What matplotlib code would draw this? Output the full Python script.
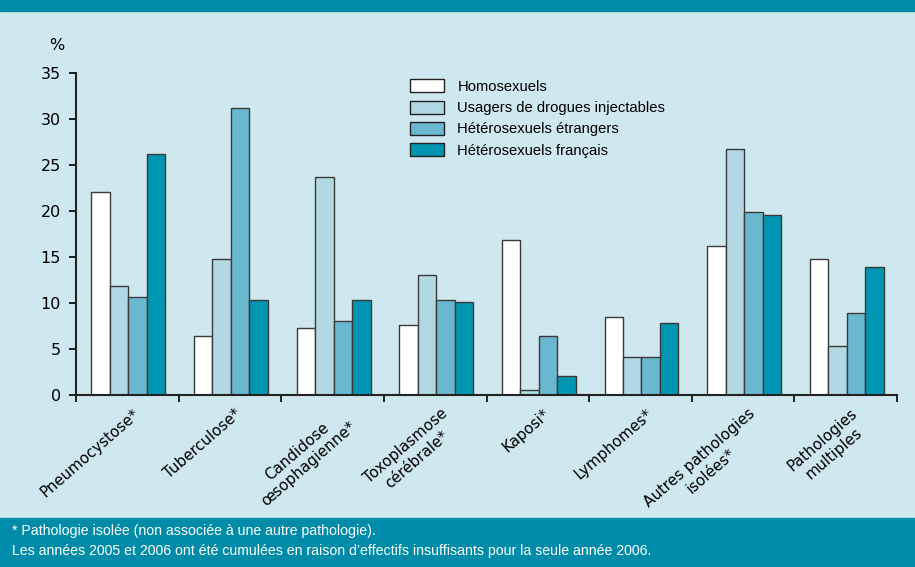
import matplotlib
matplotlib.use("Agg")
import matplotlib.pyplot as plt
import numpy as np
from matplotlib.patches import Rectangle
from matplotlib.transforms import ScaledTranslation

categories = ["Pneumocystose*", "Tuberculose*", "Candidose\nœsophagienne*", "Toxoplasmose\ncérébrale*",
              "Kaposi*", "Lymphomes*", "Autres pathologies\nisolées*", "Pathologies\nmultiples"]
series = ["Homosexuels", "Usagers de drogues injectables", "Hétérosexuels étrangers", "Hétérosexuels français"]
homo = [22.1, 6.4, 7.3, 7.6, 16.9, 8.5, 16.2, 14.8]
udi = [11.9, 14.8, 23.7, 13.0, 0.5, 4.1, 26.7, 5.3]
hetero_etr = [10.7, 31.2, 8.0, 10.3, 6.4, 4.1, 19.9, 8.9]
hetero_fr = [26.2, 10.3, 10.3, 10.1, 2.1, 7.8, 19.6, 13.9]
yticks = [0, 5, 10, 15, 20, 25, 30, 35]
footnote = ["* Pathologie isolée (non associée à une autre pathologie).",
            "Les années 2005 et 2006 ont été cumulées en raison d\u2019effectifs insuffisants pour la seule année 2006."]

colors = ["#ffffff", "#b2d9e3", "#6ab8cf", "#0095b0"]
bg = "#cfe7ee"
band = "#008ca9"
narrow = ["Liberation Sans", "DejaVu Sans"]

fig = plt.figure(figsize=(9.15, 5.67), dpi=100)
fig.patch.set_facecolor(bg)
fig.patches.append(Rectangle((0, 1 - 11 / 567), 1, 11 / 567, transform=fig.transFigure, color=band, zorder=0))
fig.patches.append(Rectangle((0, 0), 1, 49 / 567, transform=fig.transFigure, color=band, zorder=0))

ax = fig.add_axes([76 / 915, 172 / 567, 821 / 915, 322 / 567])
ax.set_facecolor(bg)

x = np.arange(len(categories))
w = 0.18
for i, (vals, name) in enumerate(zip([homo, udi, hetero_etr, hetero_fr], series)):
    ax.bar(x + 0.01 + (i - 1.5) * w, vals, w, color=colors[i], edgecolor="#3a3a3a", linewidth=1,
           label=name, zorder=2)

ax.set_xlim(-0.5, len(categories) - 0.5)
ax.set_ylim(0, 35)
ax.set_yticks(yticks)
ax.tick_params(axis="y", labelsize=11.5, length=5, width=1.2, direction="out", pad=6)
ax.set_xticks(x)
ax.set_xticklabels(categories, rotation=41, ha="right", va="top", rotation_mode="anchor",
                   multialignment="center", fontsize=10.8)
ax.tick_params(axis="x", which="major", length=0, pad=8)
ax.set_xticks(np.arange(len(categories) + 1) - 0.5, minor=True)
ax.tick_params(axis="x", which="minor", length=5, width=1.2, direction="out")
for lbl in ax.get_xticklabels():
    lbl.set_transform(lbl.get_transform() + ScaledTranslation(0.05, 0, fig.dpi_scale_trans))
for s in ["top", "right"]:
    ax.spines[s].set_visible(False)
for s in ["left", "bottom"]:
    ax.spines[s].set_linewidth(1.5)
    ax.spines[s].set_color("#222222")

fig.text(57 / 915, 1 - 45 / 567, "%", fontsize=11.5, ha="center", va="center")

leg = ax.legend(loc="upper left", bbox_to_anchor=(397 / 915, 1 - 66 / 567), bbox_transform=fig.transFigure,
                frameon=False, prop={"family": narrow, "size": 10.6}, handlelength=2.3, handleheight=1.0,
                labelspacing=0.45, handletextpad=0.9)
for h in leg.legend_handles:
    h.set_edgecolor("#222222")

fig.text(12 / 915, 1 - 531 / 567, footnote[0], color="white", fontsize=10.2, va="center", family=narrow)
fig.text(12 / 915, 1 - 551 / 567, footnote[1], color="white", fontsize=10.2, va="center", family=narrow)

fig.savefig("out.png", dpi=100, facecolor=fig.get_facecolor())
